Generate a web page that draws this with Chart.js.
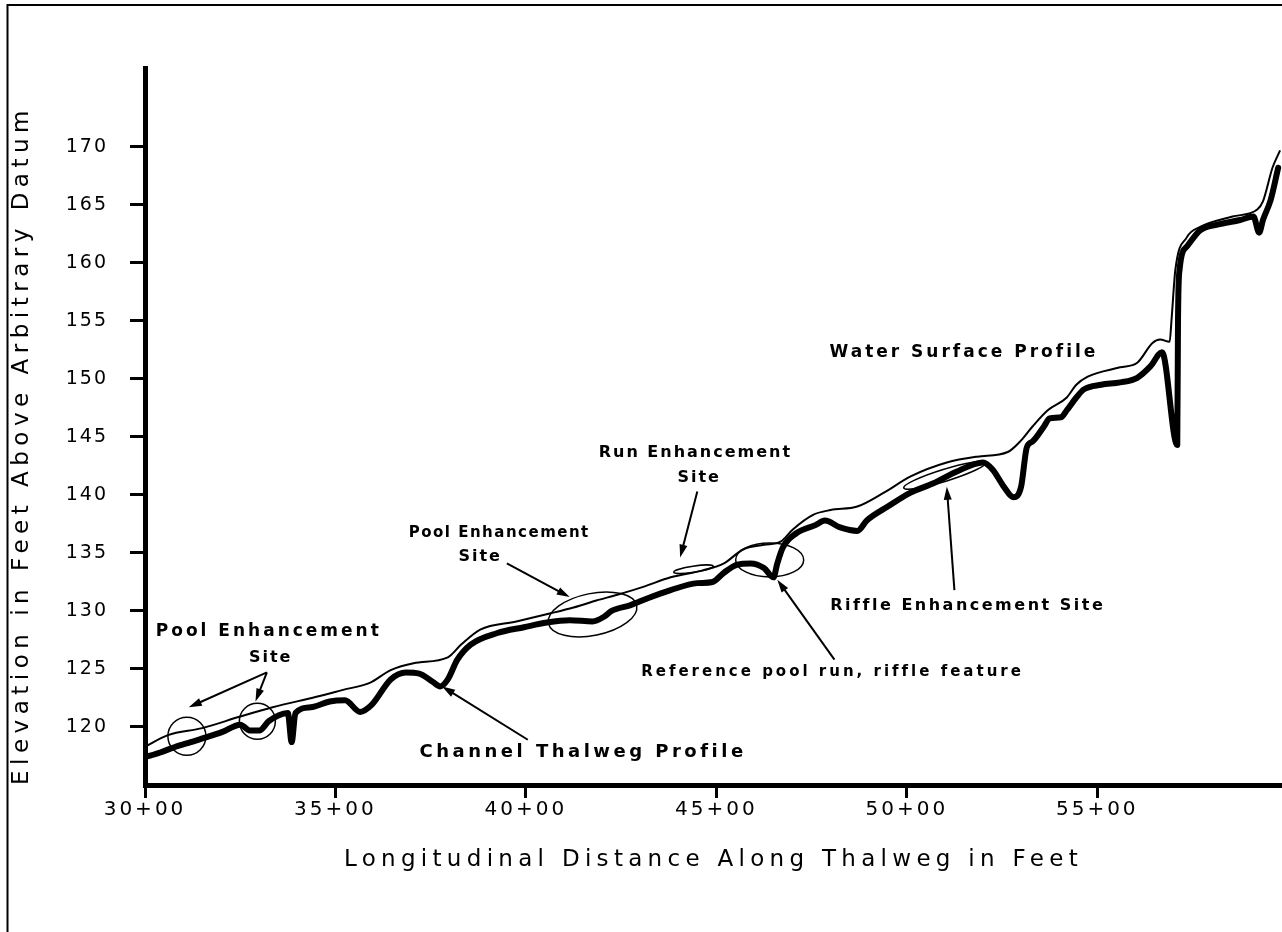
<!DOCTYPE html>
<html>
<head>
<meta charset="utf-8">
<title>Longitudinal profile</title>
<script src="https://cdn.jsdelivr.net/npm/chart.js@4.4.1/dist/chart.umd.min.js"></script>
<style>
  html, body { margin: 0; padding: 0; background: #fff; overflow: hidden; }
  canvas { display: block; }
</style>
</head>
<body>
<canvas id="profileChart" width="1282" height="932"></canvas>
<script>
// stations in feet along the thalweg, elevations in feet above datum
const thalwegStation = [
  3000, 3040, 3080, 3120, 3160, 3205, 3250, 3275, 3300, 3325, 3350, 3375, 3385, 3395,
  3435, 3485, 3525, 3565, 3595, 3645, 3685, 3720, 3755, 3775, 3795, 3820, 3855, 3925,
  3995, 4055, 4115, 4175, 4205, 4225, 4275, 4320, 4380, 4450, 4490, 4520, 4555, 4590,
  4625, 4650, 4660, 4675, 4710, 4760, 4785, 4825, 4870, 4895, 4950, 5010, 5070, 5130,
  5200, 5225, 5255, 5280, 5300, 5315, 5330, 5360, 5375, 5405, 5420, 5445, 5465, 5510,
  5560, 5605, 5640, 5670, 5710, 5712, 5716, 5735, 5770, 5815, 5875, 5910, 5925, 5935,
  5955, 5975
];
const thalwegElev = [
  117.4, 117.8, 118.3, 118.7, 119.1, 119.6, 120.2, 119.7, 119.7, 120.5, 121.0, 121.2, 118.7, 121.2,
  121.7, 122.2, 122.3, 121.3, 121.9, 124.1, 124.7, 124.6, 123.9, 123.5, 124.1, 125.8, 127.1, 128.1,
  128.6, 129.0, 129.2, 129.1, 129.5, 130.0, 130.5, 131.1, 131.8, 132.4, 132.5, 133.3, 134.0, 134.1,
  133.7, 132.9, 134.1, 135.5, 136.7, 137.4, 137.8, 137.2, 136.9, 137.8, 139.0, 140.2, 141.0, 142.0,
  142.8, 142.2, 140.7, 139.8, 140.7, 144.1, 144.6, 145.9, 146.6, 146.7, 147.3, 148.4, 149.1, 149.5,
  149.7, 150.1, 151.1, 152.3, 144.3, 155.1, 159.4, 161.4, 162.8, 163.3, 163.7, 164.0, 162.6, 163.7,
  165.4, 168.2
];
const surfaceStation = [
  3000, 3060, 3150, 3250, 3335, 3450, 3520, 3590, 3645, 3705, 3795, 3830, 3880, 3975,
  4065, 4125, 4185, 4240, 4310, 4380, 4465, 4520, 4570, 4625, 4670, 4700, 4755, 4800,
  4870, 4940, 5010, 5105, 5185, 5265, 5300, 5330, 5370, 5420, 5445, 5475, 5560, 5605,
  5645, 5665, 5690, 5695, 5705, 5735, 5770, 5855, 5920, 5935, 5960, 5980
];
const surfaceElev = [
  118.3, 119.3, 119.9, 120.9, 121.7, 122.6, 123.2, 123.8, 124.9, 125.5, 126.0, 127.1, 128.4, 129.1,
  129.8, 130.3, 130.9, 131.4, 132.1, 132.9, 133.5, 134.1, 135.3, 135.7, 136.0, 137.0, 138.3, 138.7,
  139.0, 140.2, 141.6, 142.8, 143.3, 143.7, 144.7, 145.9, 147.3, 148.4, 149.5, 150.2, 151.0, 151.4,
  153.1, 153.4, 153.2, 155.1, 159.4, 162.2, 163.1, 164.0, 164.6, 165.3, 168.2, 169.7
];
const elevTicks = [120, 125, 130, 135, 140, 145, 150, 155, 160, 165, 170];
const stationTicks = [3000, 3500, 4000, 4500, 5000, 5500];

// callouts, placed in station / elevation units
const notes = [
  { text: 'Pool Enhancement', x: 3325, y: 128.2, size: 17, gap: 3 },
  { text: 'Site', x: 3330, y: 126.0 },
  { text: 'Channel Thalweg Profile', x: 4150, y: 117.8, size: 18, gap: 3.5 },
  { text: 'Pool Enhancement', x: 3930, y: 136.7, size: 15, gap: 1.5 },
  { text: 'Site', x: 3880, y: 134.7 },
  { text: 'Run Enhancement', x: 4445, y: 143.6 },
  { text: 'Site', x: 4455, y: 141.5 },
  { text: 'Reference pool run, riffle feature', x: 4805, y: 124.7, size: 15, gap: 3 },
  { text: 'Riffle Enhancement Site', x: 5160, y: 130.4, gap: 2.5 },
  { text: 'Water Surface Profile', x: 5150, y: 152.3, size: 17, gap: 3 }
];
const arrows = [
  { from: [3320, 124.7], to: [3115, 121.7] },
  { from: [3320, 124.7], to: [3290, 122.2] },
  { from: [4005, 118.9], to: [3780, 123.5] },
  { from: [3950, 134.1], to: [4115, 131.2] },
  { from: [4450, 140.3], to: [4405, 134.6] },
  { from: [4810, 125.8], to: [4660, 132.7] },
  { from: [5125, 131.8], to: [5105, 140.7] }
];
const rings = [
  { x: 3110, y: 119.2, rx: 19, ry: 19, rot: 0 },
  { x: 3295, y: 120.5, rx: 18, ry: 18, rot: 0 },
  { x: 4175, y: 129.7, rx: 45, ry: 21, rot: -0.2 },
  { x: 4440, y: 133.6, rx: 20, ry: 3, rot: -0.15 },
  { x: 4640, y: 134.4, rx: 34, ry: 17, rot: 0 },
  { x: 5100, y: 141.7, rx: 43, ry: 6, rot: -0.3 }
];

const toPoints = (xs, ys) => xs.map((x, i) => ({ x: x, y: ys[i] }));
const stationLabel = v => Math.floor(v / 100) + '+' + String(v % 100).padStart(2, '0');

// the lettering is widely spaced, so wrap each scale's text drawing
const spacing = { x: { labels: '3px', title: '5.3px' }, y: { labels: '2px', title: '5.5px' } };
function withSpacing(fn, amount) {
  return function () {
    const c = this.ctx;
    c.save();
    c.letterSpacing = amount;
    fn.apply(this, arguments);
    c.restore();
  };
}
const spacingPlugin = {
  id: 'spacing',
  beforeDraw(chart) {
    Object.values(chart.scales).forEach(scale => {
      if (scale._spaced) return;
      const s = spacing[scale.id];
      scale.drawLabels = withSpacing(scale.drawLabels, s.labels);
      scale.drawTitle = withSpacing(scale.drawTitle, s.title);
      scale._spaced = true;
    });
  }
};

// page frame along the top and left edges
const framePlugin = {
  id: 'frame',
  beforeDraw(chart) {
    const ctx = chart.ctx;
    ctx.save();
    ctx.strokeStyle = '#000';
    ctx.lineWidth = 2;
    ctx.beginPath();
    ctx.moveTo(7.5, chart.height);
    ctx.lineTo(7.5, 5);
    ctx.lineTo(chart.width, 5);
    ctx.stroke();
    ctx.restore();
  }
};

const notesPlugin = {
  id: 'notes',
  afterDatasetsDraw(chart) {
    const { ctx, scales: { x, y } } = chart;
    const px = v => x.getPixelForValue(v);
    const py = v => y.getPixelForValue(v);
    ctx.save();
    ctx.strokeStyle = '#000';
    ctx.fillStyle = '#000';
    ctx.lineWidth = 1.5;
    rings.forEach(r => {
      ctx.beginPath();
      ctx.ellipse(px(r.x), py(r.y), r.rx, r.ry, r.rot, 0, Math.PI * 2);
      ctx.stroke();
    });
    ctx.lineWidth = 2;
    arrows.forEach(a => {
      const x0 = px(a.from[0]), y0 = py(a.from[1]);
      const x1 = px(a.to[0]), y1 = py(a.to[1]);
      const ang = Math.atan2(y1 - y0, x1 - x0);
      const c = Math.cos(ang), s = Math.sin(ang);
      ctx.beginPath();
      ctx.moveTo(x0, y0);
      ctx.lineTo(x1 - 8 * c, y1 - 8 * s);
      ctx.stroke();
      ctx.beginPath();
      ctx.moveTo(x1, y1);
      ctx.lineTo(x1 - 13 * c + 4 * s, y1 - 13 * s - 4 * c);
      ctx.lineTo(x1 - 13 * c - 4 * s, y1 - 13 * s + 4 * c);
      ctx.closePath();
      ctx.fill();
    });
    ctx.textAlign = 'center';
    ctx.textBaseline = 'middle';
    notes.forEach(n => {
      ctx.font = 'bold ' + (n.size || 16) + 'px "DejaVu Sans"';
      ctx.letterSpacing = (n.gap || 2) + 'px';
      ctx.fillText(n.text, px(n.x), py(n.y));
    });
    ctx.restore();
  }
};

Chart.defaults.font.family = '"DejaVu Sans", sans-serif';
Chart.defaults.color = '#000';

const ctx = document.getElementById('profileChart').getContext('2d');
new Chart(ctx, {
  type: 'line',
  data: {
    datasets: [
      {
        label: 'Channel Thalweg Profile',
        data: toPoints(thalwegStation, thalwegElev),
        borderColor: '#000',
        borderWidth: 6,
        cubicInterpolationMode: 'monotone',
        borderJoinStyle: 'round',
        borderCapStyle: 'round',
        pointRadius: 0
      },
      {
        label: 'Water Surface Profile',
        data: toPoints(surfaceStation, surfaceElev),
        borderColor: '#000',
        borderWidth: 2,
        cubicInterpolationMode: 'monotone',
        borderJoinStyle: 'round',
        pointRadius: 0
      }
    ]
  },
  options: {
    responsive: false,
    animation: false,
    devicePixelRatio: 1,
    layout: { padding: { top: 68, left: 0, right: 0, bottom: 0 } },
    plugins: {
      legend: { display: false },
      tooltip: { enabled: false }
    },
    scales: {
      x: {
        type: 'linear',
        min: 3000,
        max: 5985,
        afterFit: s => { s.height = 147; },
        afterBuildTicks: s => { s.ticks = stationTicks.map(v => ({ value: v })); },
        border: { width: 5, color: '#000' },
        grid: { drawOnChartArea: false, tickLength: 13, tickWidth: 3, color: '#000' },
        ticks: {
          color: '#000',
          padding: 0,
          autoSkip: false,
          maxRotation: 0,
          font: { size: 20 },
          callback: v => stationLabel(v)
        },
        title: {
          display: true,
          text: 'Longitudinal Distance Along Thalweg in Feet',
          color: '#000',
          font: { size: 23 },
          padding: { top: 0, bottom: 58 }
        }
      },
      y: {
        min: 115,
        max: 176.8,
        afterFit: s => { s.width = 145; },
        afterBuildTicks: s => { s.ticks = elevTicks.map(v => ({ value: v })); },
        border: { width: 5, color: '#000' },
        grid: { drawOnChartArea: false, tickLength: 15, tickWidth: 3, color: '#000' },
        ticks: {
          color: '#000',
          padding: 22,
          autoSkip: false,
          font: { size: 19 }
        },
        title: {
          display: true,
          text: 'Elevation in Feet Above Arbitrary Datum',
          color: '#000',
          align: 'start',
          font: { size: 23 },
          padding: { top: 8, bottom: 0 }
        }
      }
    }
  },
  plugins: [spacingPlugin, framePlugin, notesPlugin]
});
</script>
</body>
</html>
